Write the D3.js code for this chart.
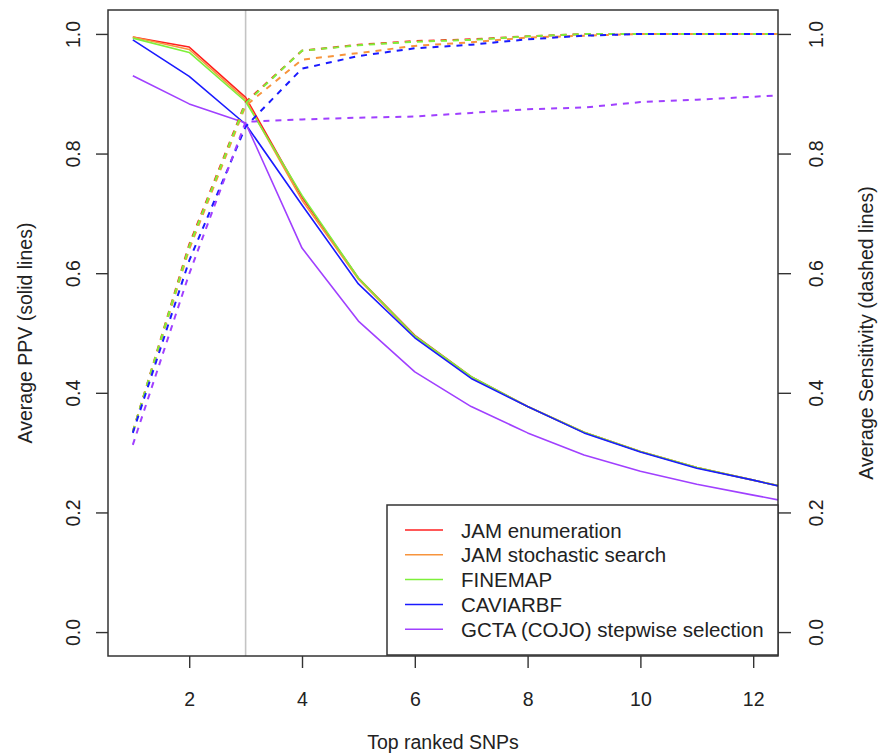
<!DOCTYPE html>
<html>
<head>
<meta charset="utf-8">
<script src="https://cdn.jsdelivr.net/npm/d3@7"></script>
<style>
  html, body { margin: 0; padding: 0; background: #fff; }
  text { font-family: "Liberation Sans", Arial, Helvetica, sans-serif; fill: #222; }
</style>
</head>
<body>
<svg id="chart" width="880" height="755"></svg>
<script>
// ---- data ----
const topSNPs = [1, 2, 3, 4, 5, 6, 7, 8, 9, 10, 11, 12, 13];
const methods = ["JAM enumeration", "JAM stochastic search", "FINEMAP", "CAVIARBF", "GCTA (COJO) stepwise selection"];
const methodColors = ["#ff2020", "#f7943c", "#7ef03a", "#1a1aff", "#a040ff"];

// Average PPV (solid lines)
const ppvJamEnum   = [0.995, 0.978, 0.894, 0.727, 0.592, 0.496, 0.427, 0.377, 0.334, 0.302, 0.275, 0.254, 0.233];
const ppvJamStoch  = [0.995, 0.974, 0.890, 0.722, 0.590, 0.494, 0.426, 0.377, 0.334, 0.302, 0.275, 0.254, 0.233];
const ppvFinemap   = [0.993, 0.969, 0.887, 0.730, 0.592, 0.495, 0.427, 0.377, 0.334, 0.302, 0.275, 0.254, 0.233];
const ppvCaviarbf  = [0.990, 0.929, 0.849, 0.714, 0.582, 0.492, 0.424, 0.377, 0.333, 0.301, 0.274, 0.254, 0.232];
const ppvGcta      = [0.930, 0.883, 0.851, 0.642, 0.520, 0.435, 0.377, 0.333, 0.296, 0.269, 0.247, 0.229, 0.211];

// Average Sensitivity (dashed lines)
const sensJamEnum  = [0.335, 0.648, 0.886, 0.972, 0.982, 0.988, 0.991, 0.996, 1.000, 1.000, 1.000, 1.000, 1.000];
const sensJamStoch = [0.335, 0.640, 0.880, 0.957, 0.968, 0.980, 0.986, 0.994, 0.997, 1.000, 1.000, 1.000, 1.000];
const sensFinemap  = [0.335, 0.645, 0.884, 0.972, 0.981, 0.987, 0.990, 0.996, 1.000, 1.000, 1.000, 1.000, 1.000];
const sensCaviarbf = [0.333, 0.621, 0.845, 0.942, 0.963, 0.976, 0.982, 0.991, 0.997, 1.000, 1.000, 1.000, 1.000];
const sensGcta     = [0.313, 0.599, 0.853, 0.857, 0.860, 0.862, 0.868, 0.874, 0.877, 0.886, 0.890, 0.895, 0.900];

const xTicks = [2, 4, 6, 8, 10, 12];
const yTicks = [0.0, 0.2, 0.4, 0.6, 0.8, 1.0];
const markerX = 3;

const ppvSeries = [ppvJamEnum, ppvJamStoch, ppvFinemap, ppvCaviarbf, ppvGcta];
const sensSeries = [sensJamEnum, sensJamStoch, sensFinemap, sensCaviarbf, sensGcta];

// ---- layout ----
const svg = d3.select("#chart");
const L = 108, R = 778, T = 10, B = 656;
const x = d3.scaleLinear().domain([0.56, 12.44]).range([L, R]);
const y = d3.scaleLinear().domain([-0.04, 1.04]).range([B, T]);
const y2 = d3.scaleLinear().domain([-0.04, 1.04]).range([B, T]);

svg.append("rect").attr("width", 880).attr("height", 755).attr("fill", "#fff");

svg.append("defs").append("clipPath").attr("id", "plotclip")
  .append("rect").attr("x", L).attr("y", T).attr("width", R - L).attr("height", B - T);

const plot = svg.append("g").attr("clip-path", "url(#plotclip)");

// vertical reference line at 3
plot.append("line")
  .attr("x1", x(markerX)).attr("x2", x(markerX))
  .attr("y1", T).attr("y2", B)
  .attr("stroke", "#c4c4c4").attr("stroke-width", 1.6);

const line = d3.line().x((d, i) => x(topSNPs[i])).y(d => y(d));

ppvSeries.forEach((s, k) => {
  plot.append("path").datum(s)
    .attr("d", line)
    .attr("fill", "none")
    .attr("stroke", methodColors[k])
    .attr("stroke-width", 1.6)
    .attr("stroke-linejoin", "round");
});
sensSeries.forEach((s, k) => {
  plot.append("path").datum(s)
    .attr("d", d3.line().x((d, i) => x(topSNPs[i])).y(d => y2(d)))
    .attr("fill", "none")
    .attr("stroke", methodColors[k])
    .attr("stroke-width", 2)
    .attr("stroke-dasharray", "6,6");
});

// ---- axes ----
const fs = 19.5;
const axisColor = "#333";
const bottom = svg.append("g").attr("transform", `translate(0,${B})`)
  .call(d3.axisBottom(x).tickValues(xTicks).tickSize(12).tickPadding(9).tickFormat(d3.format("d")));
const left = svg.append("g").attr("transform", `translate(${L},0)`)
  .call(d3.axisLeft(y).tickValues(yTicks).tickSize(12).tickFormat(d3.format(".1f")));
const right = svg.append("g").attr("transform", `translate(${R},0)`)
  .call(d3.axisRight(y2).tickValues(yTicks).tickSize(13).tickFormat(d3.format(".1f")));

[bottom, left, right].forEach(g => {
  g.select(".domain").remove();
  g.selectAll(".tick line").attr("stroke", axisColor).attr("stroke-width", 1.4);
  g.selectAll(".tick text").attr("font-size", fs).attr("fill", "#222")
    .style("font-family", '"Liberation Sans", Arial, sans-serif');
});
bottom.selectAll(".tick text").attr("y", 0).attr("dy", null)
  .attr("transform", "translate(0,43)").attr("dominant-baseline", "central");
left.selectAll(".tick text").attr("x", null).attr("dy", null)
  .attr("transform", "translate(-35.5,0) rotate(-90)")
  .attr("text-anchor", "middle").attr("dominant-baseline", "central");
right.selectAll(".tick text").attr("x", null).attr("dy", null)
  .attr("transform", "translate(38,0) rotate(-90)")
  .attr("text-anchor", "middle").attr("dominant-baseline", "central");

// frame
svg.append("rect").attr("x", L).attr("y", T).attr("width", R - L).attr("height", B - T)
  .attr("fill", "none").attr("stroke", axisColor).attr("stroke-width", 1.5);

// axis titles
svg.append("text").attr("x", (L + R) / 2).attr("y", 742)
  .attr("text-anchor", "middle").attr("dominant-baseline", "central")
  .attr("font-size", fs).text("Top ranked SNPs");
svg.append("text").attr("transform", `translate(25,${(T + B) / 2}) rotate(-90)`)
  .attr("text-anchor", "middle").attr("dominant-baseline", "central")
  .attr("font-size", fs).text("Average PPV (solid lines)");
svg.append("text").attr("transform", `translate(866,${(T + B) / 2}) rotate(-90)`)
  .attr("text-anchor", "middle").attr("dominant-baseline", "central")
  .attr("font-size", fs).text("Average Sensitivity (dashed lines)");

// ---- legend ----
const lg = svg.append("g");
lg.append("rect").attr("x", 387).attr("y", 505).attr("width", R - 387).attr("height", B - 505 - 1)
  .attr("fill", "#fff").attr("stroke", axisColor).attr("stroke-width", 1.5);
methods.forEach((m, k) => {
  const yy = 530 + k * 24.8;
  lg.append("line").attr("x1", 405).attr("x2", 443).attr("y1", yy).attr("y2", yy)
    .attr("stroke", methodColors[k]).attr("stroke-width", 1.5);
  lg.append("text").attr("x", 461).attr("y", yy).attr("dominant-baseline", "central")
    .attr("font-size", 20.5).text(m);
});
</script>
</body>
</html>
